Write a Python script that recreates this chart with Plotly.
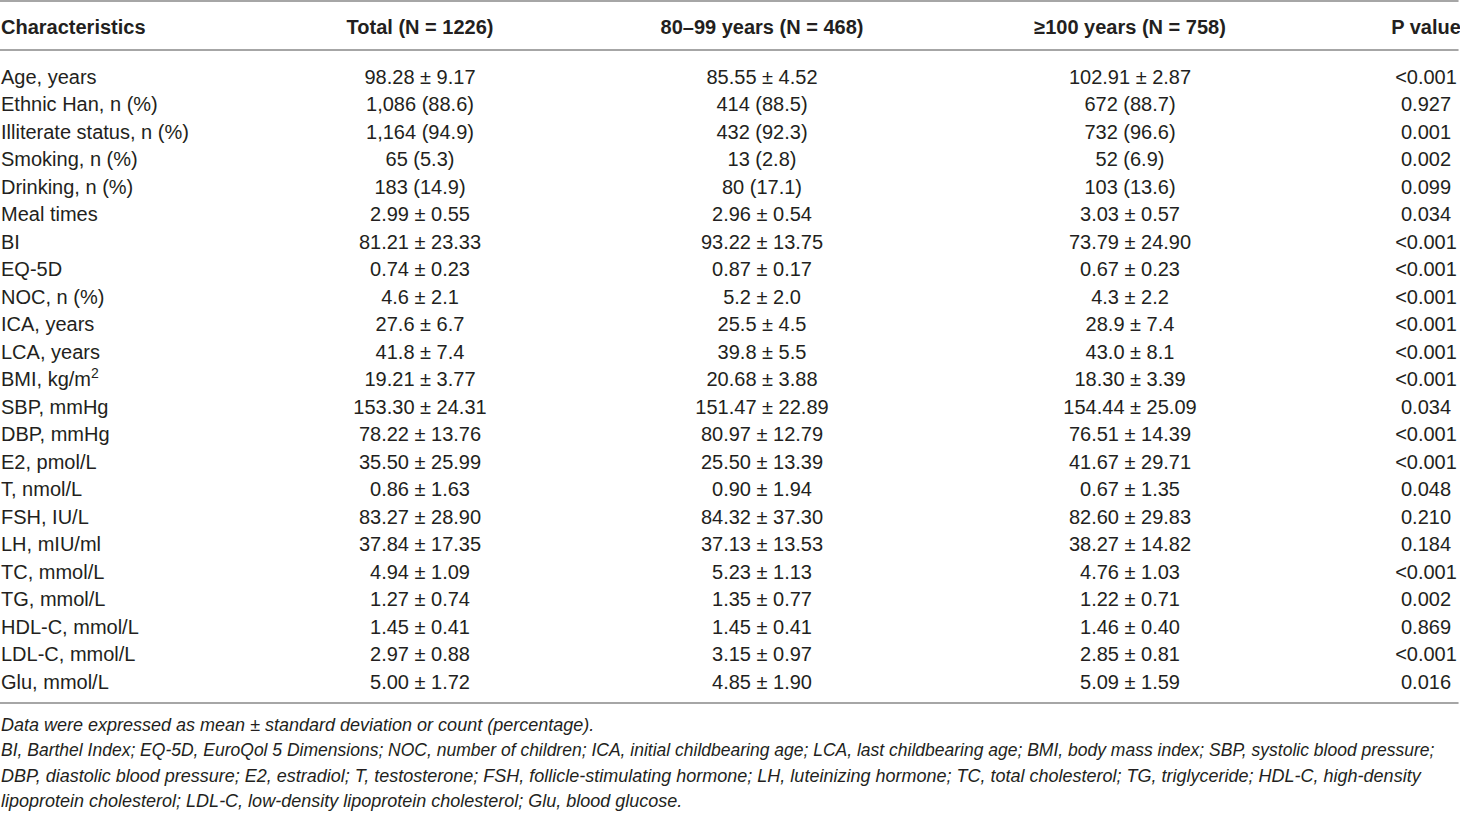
import plotly.graph_objects as go

# --- table content ---
HEADERS = ["Characteristics", "Total (N = 1226)", "80–99 years (N = 468)",
           "≥100 years (N = 758)", "P value"]

CHARACTERISTICS = [
    "Age, years", "Ethnic Han, n (%)", "Illiterate status, n (%)", "Smoking, n (%)",
    "Drinking, n (%)", "Meal times", "BI", "EQ-5D", "NOC, n (%)", "ICA, years",
    "LCA, years", "BMI, kg/m<sup>2</sup>", "SBP, mmHg", "DBP, mmHg", "E2, pmol/L",
    "T, nmol/L", "FSH, IU/L", "LH, mIU/ml", "TC, mmol/L", "TG, mmol/L",
    "HDL-C, mmol/L", "LDL-C, mmol/L", "Glu, mmol/L",
]

TOTAL = [
    "98.28 ± 9.17", "1,086 (88.6)", "1,164 (94.9)", "65 (5.3)", "183 (14.9)",
    "2.99 ± 0.55", "81.21 ± 23.33", "0.74 ± 0.23", "4.6 ± 2.1", "27.6 ± 6.7",
    "41.8 ± 7.4", "19.21 ± 3.77", "153.30 ± 24.31", "78.22 ± 13.76", "35.50 ± 25.99",
    "0.86 ± 1.63", "83.27 ± 28.90", "37.84 ± 17.35", "4.94 ± 1.09", "1.27 ± 0.74",
    "1.45 ± 0.41", "2.97 ± 0.88", "5.00 ± 1.72",
]

AGE_80_99 = [
    "85.55 ± 4.52", "414 (88.5)", "432 (92.3)", "13 (2.8)", "80 (17.1)",
    "2.96 ± 0.54", "93.22 ± 13.75", "0.87 ± 0.17", "5.2 ± 2.0", "25.5 ± 4.5",
    "39.8 ± 5.5", "20.68 ± 3.88", "151.47 ± 22.89", "80.97 ± 12.79", "25.50 ± 13.39",
    "0.90 ± 1.94", "84.32 ± 37.30", "37.13 ± 13.53", "5.23 ± 1.13", "1.35 ± 0.77",
    "1.45 ± 0.41", "3.15 ± 0.97", "4.85 ± 1.90",
]

AGE_100_PLUS = [
    "102.91 ± 2.87", "672 (88.7)", "732 (96.6)", "52 (6.9)", "103 (13.6)",
    "3.03 ± 0.57", "73.79 ± 24.90", "0.67 ± 0.23", "4.3 ± 2.2", "28.9 ± 7.4",
    "43.0 ± 8.1", "18.30 ± 3.39", "154.44 ± 25.09", "76.51 ± 14.39", "41.67 ± 29.71",
    "0.67 ± 1.35", "82.60 ± 29.83", "38.27 ± 14.82", "4.76 ± 1.03", "1.22 ± 0.71",
    "1.46 ± 0.40", "2.85 ± 0.81", "5.09 ± 1.59",
]

P_VALUES = [
    "<0.001", "0.927", "0.001", "0.002", "0.099", "0.034", "<0.001", "<0.001",
    "<0.001", "<0.001", "<0.001", "<0.001", "0.034", "<0.001", "<0.001", "0.048",
    "0.210", "0.184", "<0.001", "0.002", "0.869", "<0.001", "0.016",
]

FOOTNOTES = [
    "Data were expressed as mean ± standard deviation or count (percentage).",
    "BI, Barthel Index; EQ-5D, EuroQol 5 Dimensions; NOC, number of children; ICA, initial childbearing age; "
    "LCA, last childbearing age; BMI, body mass index; SBP, systolic blood pressure;",
    "DBP, diastolic blood pressure; E2, estradiol; T, testosterone; FSH, follicle-stimulating hormone; "
    "LH, luteinizing hormone; TC, total cholesterol; TG, triglyceride; HDL-C, high-density",
    "lipoprotein cholesterol; LDL-C, low-density lipoprotein cholesterol; Glu, blood glucose.",
]

# --- layout settings (pixel-ish units) ---
W, H = 1460, 813
FONT = "Liberation Sans, Arial, sans-serif"
TEXT_COLOR = "#231f20"
RULE_COLOR = "#a6a6a6"
COL_X = [1, 420, 762, 1130, 1426]          # left edge for first col, centres for others
ROW0_PX, ROW_STEP = 78.5, 27.5             # first data row centre and row pitch
HEADER_PX = 28.5
RULES_PX = [1, 50, 703]
FOOT_PX = [724.5, 750, 775.5, 800.5]
FOOT_SIZES = [18, 17.5, 18, 18]            # line 2 is justified to the full width in the source

rows = list(range(len(CHARACTERISTICS)))
header_row = (HEADER_PX - ROW0_PX) / ROW_STEP

fig = go.Figure()

# header
fig.add_trace(go.Scatter(
    x=COL_X, y=[header_row] * len(HEADERS), text=HEADERS, mode="text",
    textposition=["middle right"] + ["middle center"] * 4,
    textfont=dict(family=FONT, size=20, color=TEXT_COLOR, weight="bold"),
    hoverinfo="skip", showlegend=False,
))

# body columns
columns = [CHARACTERISTICS, TOTAL, AGE_80_99, AGE_100_PLUS, P_VALUES]
for i, col in enumerate(columns):
    fig.add_trace(go.Scatter(
        x=[COL_X[i]] * len(col), y=rows, text=col, mode="text",
        textposition="middle right" if i == 0 else "middle center",
        textfont=dict(family=FONT, size=20, color=TEXT_COLOR),
        hoverinfo="skip", showlegend=False,
    ))

# horizontal rules
for px in RULES_PX:
    fig.add_shape(type="line", xref="paper", yref="paper", x0=0, x1=0.999,
                  y0=1 - px / H, y1=1 - px / H,
                  line=dict(color=RULE_COLOR, width=2))

# footnotes
for txt, px, sz in zip(FOOTNOTES, FOOT_PX, FOOT_SIZES):
    fig.add_annotation(text=f"<i>{txt}</i>", xref="paper", yref="paper",
                       x=0, y=1 - px / H, xanchor="left", yanchor="middle",
                       showarrow=False, borderpad=0,
                       font=dict(family=FONT, size=sz, color=TEXT_COLOR))

fig.update_layout(
    width=W, height=H,
    margin=dict(l=0, r=0, t=0, b=0),
    paper_bgcolor="white", plot_bgcolor="white",
    xaxis=dict(range=[0, W], visible=False, fixedrange=True),
    yaxis=dict(range=[(H - ROW0_PX) / ROW_STEP, -ROW0_PX / ROW_STEP],
               visible=False, fixedrange=True),
)

# drop the page's default body margin so the figure sits at the top-left corner
fig.write_html("out.html", config={"displayModeBar": False},
               post_script="document.body.style.margin='0';document.body.style.overflow='hidden';")
